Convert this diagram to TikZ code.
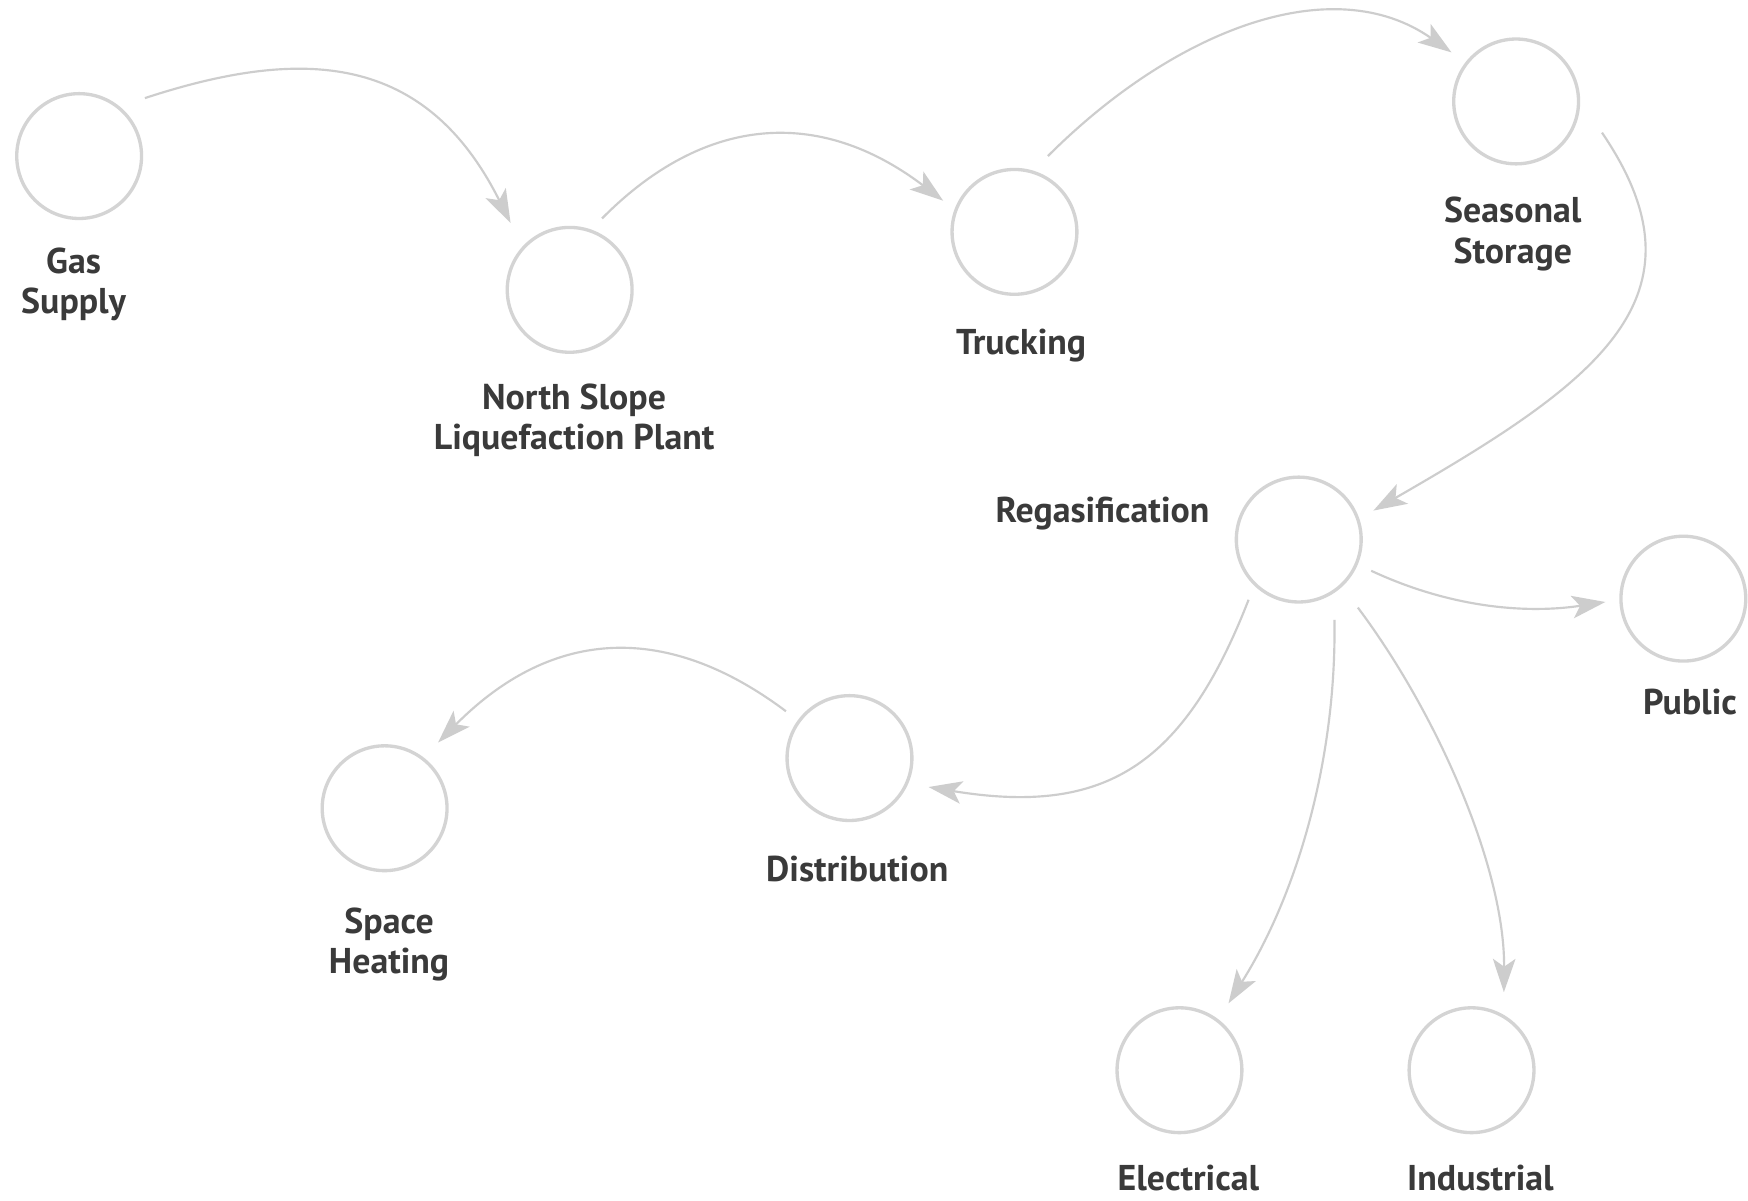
\documentclass[tikz,border=0pt]{standalone}
\usepackage{fontspec}
\setmainfont{PT Sans}
\usetikzlibrary{calc,arrows.meta}
\definecolor{ringgray}{HTML}{D4D4D4}
\definecolor{arrowgray}{HTML}{CDCDCD}
\definecolor{textgray}{HTML}{3A3A3A}
\begin{document}
\begin{tikzpicture}[x=0.02cm,y=0.02cm,
  stage/.style={circle,draw=ringgray,line width=1.7pt,fill=white,minimum size=2.24cm,inner sep=0pt},
  lbl/.style={text=textgray,font=\bfseries\fontsize{18.3}{20.5}\selectfont,align=center,inner sep=0pt,anchor=base},
  flow/.style={draw=arrowgray,line width=1.1pt,-{Stealth[length=17pt,width=11.5pt,inset=4pt,fill=arrowgray]}}]
\useasboundingbox[fill=white] (0,0) rectangle (1568,-1077);
\node[stage] (gas) at (71,-140) {};
\node[stage] (lng) at (511,-260) {};
\node[stage] (truck) at (910,-208) {};
\node[stage] (store) at (1360,-91) {};
\node[stage] (regas) at (1165,-484) {};
\node[stage] (public) at (1510,-537) {};
\node[stage] (distr) at (762,-680) {};
\node[stage] (heat) at (345,-725) {};
\node[stage] (elec) at (1058,-960) {};
\node[stage] (indus) at (1320,-960) {};

\node[lbl] (tgas) at (66,-281) {Gas\\Supply};
\node[lbl] (tlng) at (515,-403) {North Slope\\Liquefaction Plant};
\node[lbl] (ttruck) at (916,-318) {Trucking};
\node[lbl] (tstore) at (1357,-236) {Seasonal\\Storage};
\node[lbl] (tregas) at (989,-469) {Regasification};
\node[lbl] (tpublic) at (1516,-641) {Public};
\node[lbl] (tdistr) at (769,-791) {Distribution};
\node[lbl] (theat) at (349,-873) {Space\\Heating};
\node[lbl] (telec) at (1066,-1068) {Electrical};
\node[lbl] (tindus) at (1328,-1068) {Industrial};

\draw[flow] ($(gas)+(59,52)$) .. controls +(142.5,46.8) and +(-76,152) .. ($(lng)+(-53,60)$);
\draw[flow] ($(lng)+(29,64)$) .. controls +(91,92) and +(-112,85) .. ($(truck)+(-64,28)$);
\draw[flow] ($(truck)+(30,68)$) .. controls +(113,113) and +(-107,75) .. ($(store)+(-58,44)$);
\draw[flow] ($(store)+(77,-28)$) .. controls +(101,-148) and +(200,115) .. ($(regas)+(67,26)$);
\draw[flow] ($(regas)+(65,-28)$) .. controls +(73,-34) and +(-69,-10.5) .. ($(public)+(-70,-3)$);
\draw[flow] ($(regas)+(-45,-54)$) .. controls +(-58,-149) and +(158,-26) .. ($(distr)+(71,-26)$);
\draw[flow] ($(distr)+(-57,42)$) .. controls +(-112,84) and +(98,99) .. ($(heat)+(48,59)$);
\draw[flow] ($(regas)+(32,-72)$) .. controls +(2,-120) and +(64,102) .. ($(elec)+(44,60)$);
\draw[flow] ($(regas)+(53,-61)$) .. controls +(72,-96) and +(1,110) .. ($(indus)+(29,70)$);
\end{tikzpicture}
\end{document}
